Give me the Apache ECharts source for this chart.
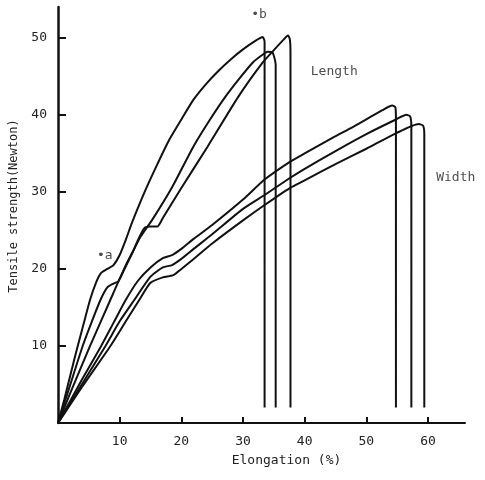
<!DOCTYPE html>
<html>
<head>
<meta charset="utf-8">
<script src="https://cdn.jsdelivr.net/npm/echarts@6/dist/echarts.min.js"></script>
<style>
    html, body { margin: 0; padding: 0; background: #fff; }
    #chart { width: 485px; height: 480px; }
</style>
</head>
<body>
<div id="chart"></div>
<script>
    // length direction curves: [elongation %, strength N]
    const length1 = [[0,0],[1,3],[2,6.2],[3.2,10],[4.2,13],[5.2,16],[6.2,18.3],[7,19.5],[8,20],[9,20.5],[10,21.8],[11,23.8],[12,26],[14,29.9],[16,33.4],[18,36.7],[20,39.4],[22,42],[24,44],[26,45.7],[28,47.2],[30,48.5],[32,49.6],[33.2,50.1],[33.5,49.5],[33.5,2]]
    const length2 = [[0,0],[2,5],[4,10],[5.5,13.2],[6.9,16],[8,17.6],[9,18.1],[9.8,18.4],[11,20.5],[12.3,22.5],[13.4,24.2],[15.3,26.4],[18.5,30.6],[21.9,35.8],[24.5,39.2],[27.1,42.3],[29.5,44.8],[31.6,46.8],[33,47.7],[34,48.2],[34.8,48.1],[35.3,46.5],[35.3,2]]
    const length3 = [[0,0],[2,3.9],[5.2,10],[8.5,16],[10,18.7],[12,22],[13,23.8],[14,25.3],[15,25.5],[16.1,25.5],[17,26.6],[20,30.5],[24.2,35.8],[29.2,42.3],[33.2,46.8],[35,48.4],[36.5,49.7],[37.3,50.3],[37.6,49.8],[37.7,48],[37.7,2]]
    // width direction curves
    const width1 = [[0,0],[2,2.9],[4,5.8],[7,10],[9,13],[11,16],[13,18.5],[15,20.2],[17,21.4],[18.5,21.8],[20,22.6],[22,23.9],[25,25.7],[30,29],[33.5,31.6],[37.6,33.9],[40,35],[44.5,37],[48,38.5],[52.6,40.6],[54.2,41.2],[54.7,41],[54.8,39.5],[54.8,2]]
    const width2 = [[0,0],[2,2.6],[4,5.2],[7.7,10],[10,13.2],[12.4,16],[15,19],[17,20.2],[18.5,20.5],[20,21.3],[22,22.6],[25,24.5],[30,27.8],[33.5,29.6],[37.6,31.8],[40,33],[45,35.3],[50,37.5],[54.8,39.4],[56.5,40],[57.1,39.8],[57.3,38.5],[57.3,2]]
    const width3 = [[0,0],[2,2.4],[4,4.8],[8.5,10],[11,13.2],[13.2,16],[15,18.2],[17,18.9],[18.7,19.2],[20,20],[22,21.3],[25,23.3],[30,26.3],[33.5,28.3],[37.6,30.5],[40,31.5],[45,33.6],[50,35.6],[54.8,37.6],[58.5,38.8],[59.2,38.6],[59.4,37.5],[59.4,2]]

    // tick values and annotations [x, y, text]
    const xTicks = [10, 20, 30, 40, 50, 60]
    const yTicks = [10, 20, 30, 40, 50]
    const notes = [[7.6, 21.7, '•a'], [32.6, 53, '•b'], [44.8, 45.6, 'Length'], [64.5, 31.9, 'Width']]

    const font = 'DejaVu Sans Mono'
    const curves = [length1, length2, length3, width1, width2, width3]

    let chart = echarts.init(document.getElementById('chart'))
    chart.setOption({
        animation: false,
        backgroundColor: '#fff',
        grid: { left: 57, top: 7, width: 408, height: 416 },
        xAxis: {
            type: 'value', min: 0, max: 66,
            name: 'Elongation (%)', nameLocation: 'middle', nameGap: 31,
            nameTextStyle: { fontFamily: font, fontSize: 13, color: '#222', padding: [0, 0, 0, 50] },
            axisLine: { lineStyle: { color: '#111', width: 2 } },
            axisTick: { inside: true, length: 6, customValues: xTicks, lineStyle: { color: '#111', width: 2 } },
            axisLabel: { margin: 12, fontFamily: font, fontSize: 13, color: '#222', customValues: xTicks },
            splitLine: { show: false }
        },
        yAxis: {
            type: 'value', min: 0, max: 54,
            name: 'Tensile strength(Newton)', nameLocation: 'middle', nameGap: 38, nameRotate: 90,
            nameTextStyle: { fontFamily: font, fontSize: 12, color: '#222', padding: [0, 0, 0, 18] },
            axisLine: { lineStyle: { color: '#111', width: 2.5 } },
            axisTick: { inside: true, length: 8, customValues: yTicks, lineStyle: { color: '#111', width: 2 } },
            axisLabel: { margin: 11, fontFamily: font, fontSize: 13, color: '#222', customValues: yTicks },
            splitLine: { show: false }
        },
        series: curves.map(c => ({
            type: 'line',
            data: c,
            symbol: 'none',
            smooth: 0.2,
            lineStyle: { color: '#111', width: 2 }
        })).concat([{
            type: 'scatter',
            symbolSize: 0,
            data: notes.map(n => ({ value: [n[0], n[1]], name: n[2] })),
            label: {
                show: true, position: 'inside', formatter: p => p.name,
                fontFamily: font, fontSize: 13, color: '#222'
            }
        }])
    })
</script>
</body>
</html>
